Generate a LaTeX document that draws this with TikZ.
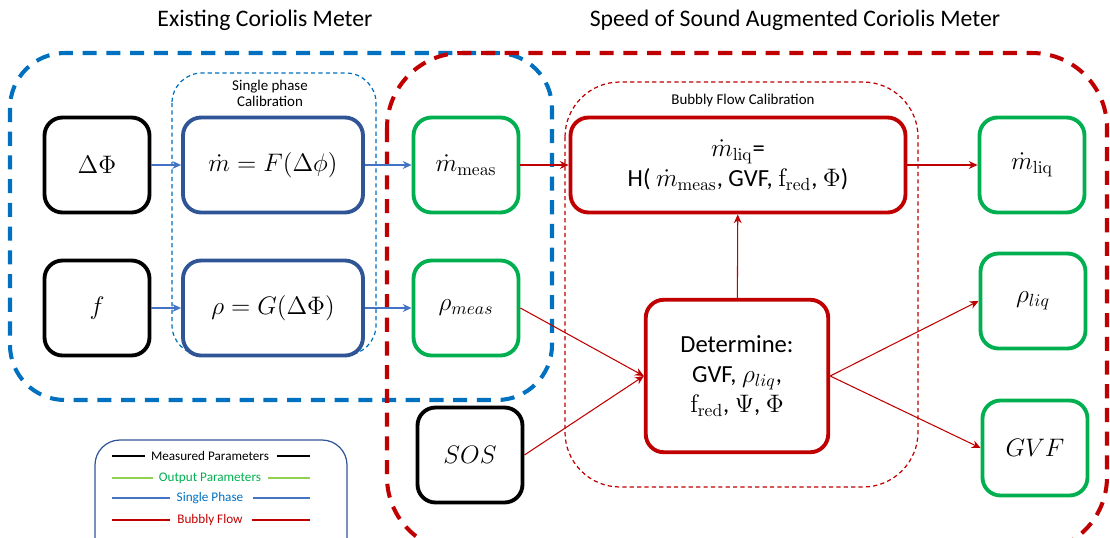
\documentclass[tikz,border=0pt]{standalone}
\usepackage[no-math]{fontspec}
\setmainfont{Carlito}
\usetikzlibrary{arrows.meta}

\definecolor{bfred}{HTML}{C00000}
\definecolor{outgreen}{HTML}{00B050}
\definecolor{leggreen}{HTML}{92D050}
\definecolor{spnavy}{HTML}{2F5597}
\definecolor{spblue}{HTML}{0070C0}
\definecolor{arrblue}{HTML}{4472C4}

\begin{document}
\begin{tikzpicture}[
    x=0.02cm, y=-0.02cm,
    box/.style={draw, line width=2.2pt, rounded corners=0.36cm,
        minimum width=2.1cm, minimum height=1.9cm, align=center,
        font=\fontsize{14}{17}\selectfont},
    measbox/.style={box, black},
    spbox/.style={box, spnavy, text=black, minimum width=3.6cm},
    outbox/.style={box, outgreen, text=black},
    bfbox/.style={box, bfred, text=black},
    bigdash/.style={line width=2.3pt, dash pattern=on 8pt off 5.5pt},
    calbox/.style={line width=0.7pt, dash pattern=on 2.4pt off 1.8pt},
    calnote/.style={font=\fontsize{8.5}{10}\selectfont, align=center},
    arrow/.style={-{Stealth[length=5pt,width=4.5pt]}, line width=0.6pt},
    legline/.style={line width=1.5pt},
    legtext/.style={font=\fontsize{7.5}{9}\selectfont}
]
    \useasboundingbox (0,0) rectangle (1110,538);

    % Column headings
    \node[font=\fontsize{13.5}{16}\selectfont] (headL) at (265,20) {Existing Coriolis Meter};
    \node[font=\fontsize{13.5}{16}\selectfont] (headR) at (795,20) {Speed of Sound Augmented Coriolis Meter};

    % The two meters (big dashed outlines)
    \draw[bigdash, spblue, rounded corners=1.1cm] (10,53) rectangle (552,400);
    \draw[bigdash, bfred, rounded corners=1.5cm] (387,53) rectangle (1107,552);

    % Calibration regions
    \draw[calbox, spblue, rounded corners=0.6cm] (172,73) rectangle (376,355);
    \node[calnote] (spcal) at (270,93) {Single phase\\[-1pt]Calibration};
    \draw[calbox, bfred, rounded corners=1.1cm] (565,82) rectangle (918,487);
    \node[calnote] (bfcal) at (743,101) {Bubbly Flow Calibration};

    % Measured inputs
    \node[measbox] (dphi) at (97,165) {$\Delta\Phi$};
    \node[measbox] (freq) at (97,308) {$f$};
    \node[measbox] (sos) at (470,455) {$SOS$};

    % Single phase calibration
    \node[spbox] (mdotF) at (273,165) {$\dot m=F(\Delta\phi)$};
    \node[spbox] (rhoG) at (273,308) {$\rho=G(\Delta\Phi)$};

    % Outputs
    \node[outbox] (mmeas) at (466,165) {$\dot m_{\mathrm{meas}}$};
    \node[outbox] (rhomeas) at (466,308) {$\rho_{meas}$};
    \node[outbox] (mliq) at (1032,165) {$\dot m_{\mathrm{liq}}$};
    \node[outbox] (rholiq) at (1033,301) {$\rho_{liq}$};
    \node[outbox] (gvf) at (1035,448) {$GVF$};

    % Bubbly flow calibration
    \node[bfbox, minimum width=6.7cm] (hfunc) at (738,165)
        {$\dot m_{\mathrm{liq}}$=\\H( $\dot m_{\mathrm{meas}}$, GVF, $\mathrm{f}_{\mathrm{red}}$, $\Phi$)};
    \node[bfbox, minimum width=3.65cm, minimum height=3.05cm] (determine) at (737,376)
        {Determine:\\GVF, $\rho_{liq}$,\\$\mathrm{f}_{\mathrm{red}}$, $\Psi$, $\Phi$};

    % Single phase connectors
    \draw[arrow, arrblue] (dphi) -- (mdotF);
    \draw[arrow, arrblue] (freq) -- (rhoG);
    \draw[arrow, arrblue] (mdotF) -- (mmeas);
    \draw[arrow, arrblue] (rhoG) -- (rhomeas);

    % Bubbly flow connectors
    \draw[arrow, bfred] (mmeas) -- (hfunc);
    \draw[arrow, bfred] (rhomeas.east) -- (determine.west);
    \draw[arrow, bfred] (sos.east) -- (determine.west);
    \draw[arrow, bfred] (determine) -- (hfunc);
    \draw[arrow, bfred] (hfunc) -- (mliq);
    \draw[arrow, bfred] (determine.east) -- (rholiq.west);
    \draw[arrow, bfred] (determine.east) -- (gvf.west);

    % Legend
    \draw[spnavy, line width=0.7pt, rounded corners=0.5cm] (95,440) rectangle (347,570);
    \node[legtext] (legmeas) at (210,456) {Measured Parameters};
    \node[legtext, text=outgreen] (legout) at (210,478) {Output Parameters};
    \node[legtext, text=spblue] (legsp) at (210,498) {Single Phase};
    \node[legtext, text=bfred] (legbf) at (210,520) {Bubbly Flow};
    \draw[legline, black] (112,456) -- (145,456) (277,456) -- (310,456);
    \draw[legline, leggreen] (112,478) -- (153,478) (268,478) -- (310,478);
    \draw[legline, arrblue] (112,498) -- (170,498) (253,498) -- (310,498);
    \draw[legline, bfred] (112,520) -- (170,520) (252,520) -- (310,520);

\end{tikzpicture}
\end{document}
